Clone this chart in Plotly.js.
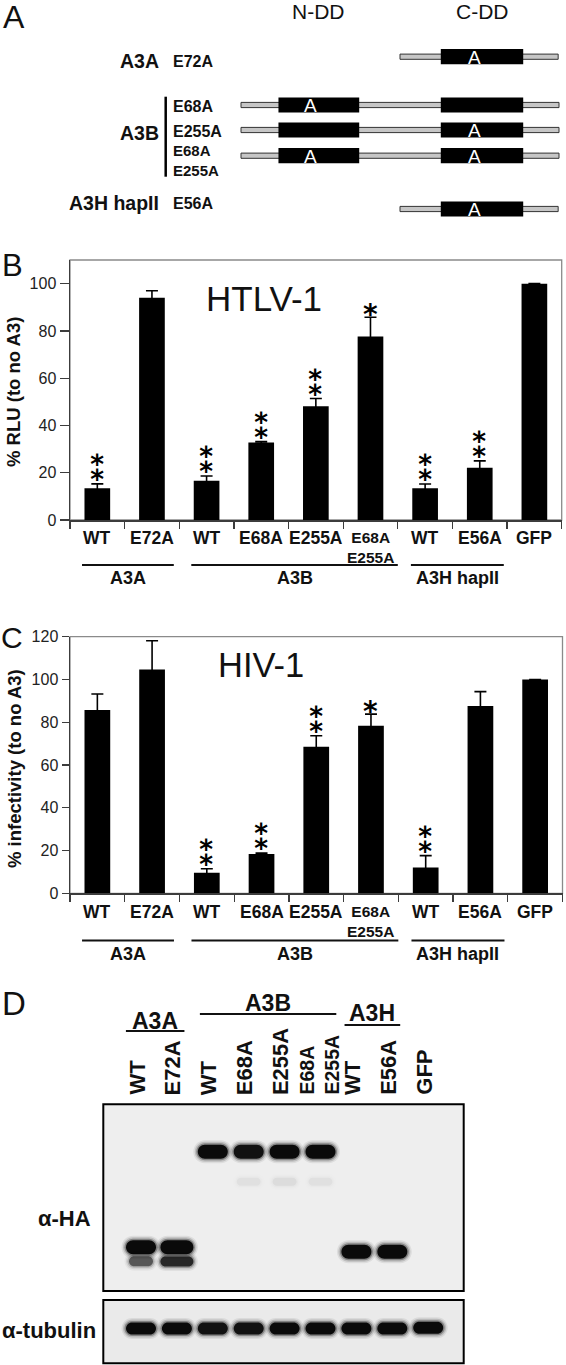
<!DOCTYPE html>
<html><head><meta charset="utf-8">
<script src="https://cdn.plot.ly/plotly-3.0.1.min.js"></script>
<style>html,body{margin:0;padding:0;background:#fff}</style>
</head><body><div id="chart" style="width:566px;height:1365px"></div>
<script>
// ================= DATA =================
// Panel A: schematic constructs (positions in A3B residue numbering)
const constructName = ['A3A', 'A3B', 'A3B', 'A3B', 'A3H hapII'];
const constructMutant = ['E72A', 'E68A', 'E255A', 'E68A\nE255A', 'E56A'];
const constructStart = [191, 0, 0, 0, 191];
const constructEnd = [381, 382, 382, 382, 381];
const domainName = ['N-DD', 'C-DD'];
const domainStart = [45, 240];
const domainEnd = [142, 339];
const domainSite = [84, 280];
const constructDomains = [[1], [0, 1], [0, 1], [0, 1], [1]];
const constructMutated = [[1], [0], [1], [0, 1], [1]];

// Panels B and C
const categories = ['WT', 'E72A', 'WT', 'E68A', 'E255A', 'E68A\nE255A', 'WT', 'E56A', 'GFP'];
const groupName = ['A3A', 'A3B', 'A3H hapII'];
const groupFirst = [0, 2, 6];
const groupLast = [1, 5, 7];

const htlvMean = [13.4, 94.0, 16.6, 32.8, 48.1, 77.6, 13.4, 22.1, 100];
const htlvErr = [1.9, 3.0, 2.0, 0.4, 3.3, 8.2, 1.8, 2.9, 0];
const htlvSig = ['**', '', '**', '**', '**', '*', '**', '**', ''];

const hivMean = [85.7, 104.7, 9.6, 18.4, 68.5, 78.4, 12.1, 87.6, 100];
const hivErr = [7.5, 13.4, 1.9, 0.4, 5.2, 5.4, 5.5, 6.7, 0];
const hivSig = ['', '', '**', '**', '**', '*', '**', '', ''];

// Panel D: western blot (lane index, relative migration 0=top..1=bottom, relative intensity)
const blotGroup = ['A3A', 'A3B', 'A3H'];
const blotGroupFirst = [0, 2, 6];
const blotGroupLast = [1, 5, 7];
const haLane = [0, 0, 1, 1, 2, 3, 4, 5, 3, 4, 5, 6, 7];
const haMigration = [0.766, 0.84, 0.766, 0.842, 0.254, 0.254, 0.254, 0.254, 0.415, 0.415, 0.415, 0.79, 0.79];
const haIntensity = [1, 0.55, 1, 0.8, 1, 0.95, 1, 1, 0.04, 0.05, 0.04, 1, 1];
const tubLane = [0, 1, 2, 3, 4, 5, 6, 7, 8];
const tubMigration = [0.45, 0.45, 0.45, 0.45, 0.45, 0.45, 0.45, 0.45, 0.44];
const tubIntensity = [1, 1, 0.95, 0.95, 1, 1, 1, 1, 1];

// ================= LAYOUT / STYLE =================
const W = 566, H = 1365;
const FONT = '"Liberation Sans", Arial, Helvetica, sans-serif';
const STAR_FONT = '"DejaVu Sans", "Noto Sans", sans-serif';
const fx = p => p / W;
const fy = p => 1 - p / H;
const traces = [], shapes = [], annotations = [];
const layout = {
  width: W, height: H, margin: {l: 0, r: 0, t: 0, b: 0},
  paper_bgcolor: '#fff', plot_bgcolor: 'rgba(0,0,0,0)', showlegend: false,
  font: {family: FONT, color: '#111'}
};
function note(o) {
  annotations.push(Object.assign({showarrow: false, xanchor: 'center', yanchor: 'middle', xref: 'paper', yref: 'paper'}, o));
}
function f(size, color, fam) { return {family: fam || FONT, size: size, color: color || '#111'}; }
const bold = s => '<b>' + s.split('\n').join('<br>') + '</b>';

// panel letters
note({text: 'A', x: fx(1), y: fy(17), xanchor: 'left', font: f(32)});
note({text: 'B', x: fx(0), y: fy(266), xanchor: 'left', font: f(31)});
note({text: 'C', x: fx(-1), y: fy(637), xanchor: 'left', font: f(30)});
note({text: 'D', x: fx(0), y: fy(1003), xanchor: 'left', font: f(33)});

// ---------- Panel A ----------
const A_BOT = 230;
const ROW_Y = [56.7, 105, 130, 155.7, 209];
const LINE_HALF = 2.6, BOX_HALF = 7.6;
layout.xaxis3 = {domain: [0, 1], range: [-289.5, 390.4], visible: false, fixedrange: true, anchor: 'y3'};
layout.yaxis3 = {domain: [fy(A_BOT), 1], range: [A_BOT, 0], visible: false, fixedrange: true, anchor: 'x3'};
traces.push({type: 'scatter', x: [], y: [], xaxis: 'x3', yaxis: 'y3', hoverinfo: 'skip'});

constructName.forEach((nm, r) => {
  shapes.push({type: 'rect', xref: 'x3', yref: 'y3', x0: constructStart[r], x1: constructEnd[r],
    y0: ROW_Y[r] - LINE_HALF, y1: ROW_Y[r] + LINE_HALF, fillcolor: '#c6c6c6', line: {color: '#333', width: 1}});
  constructDomains[r].forEach(d => {
    shapes.push({type: 'rect', xref: 'x3', yref: 'y3', x0: domainStart[d], x1: domainEnd[d],
      y0: ROW_Y[r] - BOX_HALF, y1: ROW_Y[r] + BOX_HALF, fillcolor: '#000', line: {width: 0}});
  });
  constructMutated[r].forEach(d => {
    note({text: 'A', x: domainSite[d], y: ROW_Y[r] + 0.5, xref: 'x3', yref: 'y3', font: f(19, '#fff')});
  });
});
domainName.forEach((nm, d) => {
  note({text: nm, x: (domainStart[d] + domainEnd[d]) / 2, y: 11, xref: 'x3', yref: 'y3', font: f(21)});
});
// construct name labels
const NAME_Y = {'A3A': 61, 'A3B': 133.3, 'A3H hapII': 203.3};
[...new Set(constructName)].forEach(nm => {
  note({text: bold(nm), x: fx(161), y: NAME_Y[nm], xref: 'paper', yref: 'y3', xanchor: 'right', font: f(19.5)});
});
const MUT_Y = [61.7, 106.7, 131.7, 160, 203.3];
constructMutant.forEach((m, r) => {
  const two = m.indexOf('\n') >= 0;
  note({text: bold(m), x: fx(171), y: MUT_Y[r], xref: 'paper', yref: 'y3', xanchor: 'left', align: 'left',
    font: f(two ? 15 : 16)});
});
shapes.push({type: 'line', xref: 'paper', yref: 'y3', x0: fx(165.7), x1: fx(165.7), y0: 96.7, y1: 176.7, line: {color: '#000', width: 2.5}});

// ---------- Panels B & C ----------
function barPanel(p) {
  const n = categories.length;
  const bounds = [];
  for (let i = 0; i <= n; i++) bounds.push(i - 0.5);
  const g = p.geom;
  layout[p.xName] = {domain: [fx(g.x0), fx(g.x1)], range: [-0.5, n - 0.5], anchor: p.ya, fixedrange: true,
    showgrid: false, zeroline: false, showline: true, linecolor: '#3c3c3c', linewidth: 1.5,
    ticks: 'outside', ticklen: 7, tickwidth: 1.3, tickcolor: '#3c3c3c', tickvals: bounds, showticklabels: false};
  layout[p.yName] = {domain: [fy(g.yBot), fy(g.yTop)], range: [0, g.ymax], anchor: p.xa, fixedrange: true,
    showgrid: false, zeroline: false, showline: true, linecolor: '#3c3c3c', linewidth: 1.5,
    ticks: 'outside', ticklen: g.ticklen, tickwidth: 1.3, tickcolor: '#3c3c3c', tickvals: p.yTicks,
    tickfont: f(16, '#222')};
  shapes.push({type: 'rect', xref: p.xa + ' domain', yref: p.ya + ' domain', x0: 0, x1: 1, y0: 0, y1: 1,
    line: {color: '#8a8a8a', width: 1.3}, layer: 'below'});
  traces.push({type: 'bar', x: categories.map((c, i) => i), y: p.mean, width: 0.47, xaxis: p.xa, yaxis: p.ya,
    marker: {color: '#000', line: {width: 0}}, hoverinfo: 'skip',
    error_y: {type: 'data', array: p.err, symmetric: true, visible: true, color: '#000', thickness: 1.6, width: 6}});
  // significance asterisks (** drawn as the vertically stacked double asterisk character)
  p.sig.forEach((s, i) => {
    if (!s) return;
    const txt = s.length === 2 ? '\u2051' : '*';
    note({text: '<b>' + txt + '</b>', x: i, y: p.mean[i] + p.err[i], xref: p.xa, yref: p.ya, yanchor: 'middle',
      yshift: s.length === 2 ? 14.5 : 2.5, font: f(s.length === 2 ? 33 : 28, '#000', STAR_FONT)});
  });
  // category labels
  categories.forEach((c, i) => {
    const two = c.indexOf('\n') >= 0;
    note({text: bold(c), x: i, xref: p.xa, y: fy(two ? p.labelY + 9 : p.labelY), yanchor: 'middle',
      font: f(two ? 15.5 : 17.5)});
  });
  // group lines + labels
  const padL = [0.28, 0.28, 0.26], padR = [0.4, 0.5, 0.44];
  groupName.forEach((gn, j) => {
    const a = groupFirst[j] - padL[j], b = groupLast[j] + padR[j];
    shapes.push({type: 'line', xref: p.xa, yref: 'paper', x0: a, x1: b, y0: fy(p.groupLineY), y1: fy(p.groupLineY),
      line: {color: '#111', width: 2}});
    note({text: bold(gn), x: (a + b) / 2, xref: p.xa, y: fy(p.groupLabelY), font: f(18)});
  });
  note({text: p.title, x: fx(p.titleX), y: fy(p.titleY), font: f(p.titleSize)});
  note({text: bold(p.yTitle), x: fx(14), y: fy((g.yTop + g.yBot) / 2 + p.yTitleDy), textangle: -90, font: f(18.5)});
}

barPanel({xa: 'x', ya: 'y', xName: 'xaxis', yName: 'yaxis',
  geom: {x0: 70, x1: 561.7, yTop: 260, yBot: 520, ymax: 110, ticklen: 9},
  mean: htlvMean, err: htlvErr, sig: htlvSig, yTicks: [0, 20, 40, 60, 80, 100],
  labelY: 538, groupLineY: 565, groupLabelY: 578,
  title: 'HTLV-1', titleX: 264, titleY: 298, titleSize: 35,
  yTitle: '% RLU (to no A3)', yTitleDy: 2});

barPanel({xa: 'x2', ya: 'y2', xName: 'xaxis2', yName: 'yaxis2',
  geom: {x0: 70, x1: 562.5, yTop: 636.7, yBot: 893.3, ymax: 120, ticklen: 7},
  mean: hivMean, err: hivErr, sig: hivSig, yTicks: [0, 20, 40, 60, 80, 100, 120],
  labelY: 912.5, groupLineY: 940.5, groupLabelY: 954.5,
  title: 'HIV-1', titleX: 261, titleY: 665, titleSize: 34.5,
  yTitle: '% infectivity (to no A3)', yTitleDy: 4});

// ---------- Panel D ----------
const D = {x0: 103.3, x1: 463.7, laneX0: 141, lanePitch: 35.9, haTop: 1104.3, haBot: 1291, tubTop: 1300, tubBot: 1363.3};
const laneRange = [(D.x0 - D.laneX0) / D.lanePitch, (D.x1 - D.laneX0) / D.lanePitch];
layout.xaxis4 = {domain: [fx(D.x0), fx(D.x1)], range: laneRange, visible: false, fixedrange: true, anchor: 'y4'};
layout.yaxis4 = {domain: [fy(D.haBot), fy(D.haTop)], range: [1, 0], visible: false, fixedrange: true, anchor: 'x4'};
layout.xaxis5 = {domain: [fx(D.x0), fx(D.x1)], range: laneRange, visible: false, fixedrange: true, anchor: 'y5'};
layout.yaxis5 = {domain: [fy(D.tubBot), fy(D.tubTop)], range: [1, 0], visible: false, fixedrange: true, anchor: 'x5'};
traces.push({type: 'scatter', x: [], y: [], xaxis: 'x4', yaxis: 'y4', hoverinfo: 'skip'});
traces.push({type: 'scatter', x: [], y: [], xaxis: 'x5', yaxis: 'y5', hoverinfo: 'skip'});

// blot backgrounds
shapes.push({type: 'rect', xref: 'x4 domain', yref: 'y4 domain', x0: 0, x1: 1, y0: 0, y1: 1, fillcolor: '#eeeeee', line: {color: '#000', width: 2}});
shapes.push({type: 'rect', xref: 'x5 domain', yref: 'y5 domain', x0: 0, x1: 1, y0: 0, y1: 1, fillcolor: '#eaeaea', line: {color: '#000', width: 2}});

function pillPath(xc, yc, wPx, hPx, xPerPx, yPerPx) {
  const hw = wPx / 2 * xPerPx, hh = hPx / 2 * yPerPx;
  const rx = Math.min(hPx / 2, wPx / 2) * xPerPx, ry = hh;
  const k = 0.5523;
  const x0 = xc - hw, x1 = xc + hw, y0 = yc - hh, y1 = yc + hh;
  const P = (x, y) => x.toFixed(5) + ',' + y.toFixed(5);
  return 'M' + P(x0 + rx, y0) + ' L' + P(x1 - rx, y0) +
    ' C' + P(x1 - rx + k * rx, y0) + ' ' + P(x1, y0 + ry - k * ry) + ' ' + P(x1, y0 + ry) +
    ' L' + P(x1, y1 - ry) +
    ' C' + P(x1, y1 - ry + k * ry) + ' ' + P(x1 - rx + k * rx, y1) + ' ' + P(x1 - rx, y1) +
    ' L' + P(x0 + rx, y1) +
    ' C' + P(x0 + rx - k * rx, y1) + ' ' + P(x0, y1 - ry + k * ry) + ' ' + P(x0, y1 - ry) +
    ' L' + P(x0, y0 + ry) +
    ' C' + P(x0, y0 + ry - k * ry) + ' ' + P(x0 + rx - k * rx, y0) + ' ' + P(x0 + rx, y0) + ' Z';
}
function band(xa, ya, lane, mig, inten, wPx, hPx, panelHpx) {
  const xPerPx = 1 / D.lanePitch, yPerPx = 1 / panelHpx;
  const layers = [[9, 0.07], [6, 0.14], [3, 0.3], [0, 0.92]];
  layers.forEach(([grow, op]) => {
    shapes.push({type: 'path', xref: xa, yref: ya, path: pillPath(lane, mig, wPx + grow, hPx + grow, xPerPx, yPerPx),
      fillcolor: '#000', opacity: Math.min(1, op * inten), line: {width: 0}});
  });
}
haLane.forEach((ln, i) => {
  const main = haIntensity[i] >= 0.9;
  const w = ln === 1 ? 33 : (main ? 30 : 24);
  const h = main ? 14 : (haIntensity[i] > 0.3 ? 10 : 8);
  band('x4', 'y4', ln, haMigration[i], haIntensity[i], w, h, D.haBot - D.haTop);
});
tubLane.forEach((ln, i) => {
  band('x5', 'y5', ln, tubMigration[i], tubIntensity[i], 30, 12, D.tubBot - D.tubTop);
});

// lane labels (rotated, bottom-aligned)
categories.forEach((c, i) => {
  const two = c.indexOf('\n') >= 0;
  note({text: bold(c), x: i, xref: 'x4', y: fy(1097), yanchor: 'bottom', textangle: -90, align: 'left',
    xshift: two ? -2 : -4, font: f(two ? 19.5 : 22)});
});
// blot group headers
const hPadL = [0.42, 0.36, 0.33], hPadR = [0.21, 0.44, 0.22];
const headerY = [1020.8, 1003, 1012.5], headerLineY = [1031, 1014, 1025];
blotGroup.forEach((gname, j) => {
  const a = blotGroupFirst[j] - hPadL[j], b = blotGroupLast[j] + hPadR[j];
  shapes.push({type: 'line', xref: 'x4', yref: 'paper', x0: a, x1: b, y0: fy(headerLineY[j]), y1: fy(headerLineY[j]),
    line: {color: '#111', width: 2}});
  note({text: bold(gname), x: (a + b) / 2, xref: 'x4', y: fy(headerY[j]), font: f(23)});
});
note({text: bold('\u03b1-HA'), x: fx(64), y: fy(1218.3), font: f(22)});
note({text: bold('\u03b1-tubulin'), x: fx(49), y: fy(1330), font: f(22)});

layout.shapes = shapes;
layout.annotations = annotations;
Plotly.newPlot('chart', traces, layout, {staticPlot: true, displayModeBar: false});
</script>
</body></html>
